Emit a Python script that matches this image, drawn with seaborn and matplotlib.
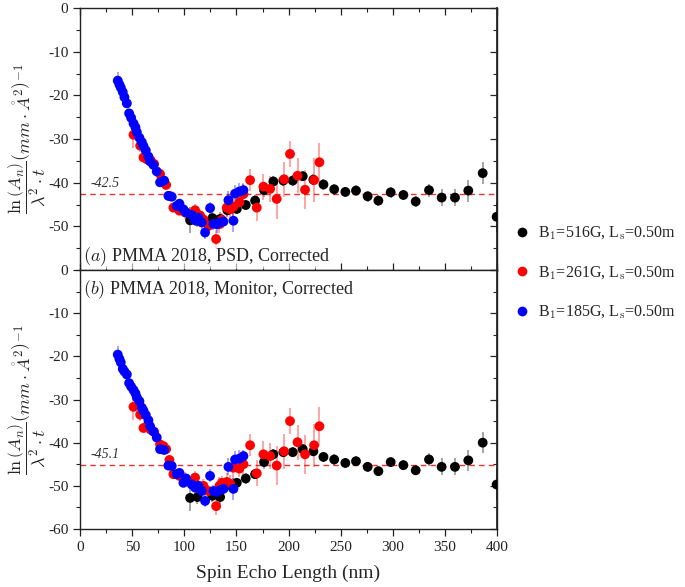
import matplotlib
matplotlib.use("Agg")
import matplotlib.pyplot as plt
from matplotlib.ticker import MultipleLocator
from matplotlib.lines import Line2D
import numpy as np
import pandas as pd
import seaborn as sns

# ---- data ----
# B1=185G (blue)
blue_x = [36.1, 37.7, 39.0, 40.9, 42.5, 44.8, 47.0, 48.9, 51.2, 53.1, 54.4, 56.9, 59.2, 60.8,
          63.0, 65.5, 67.1, 70.3, 73.5, 76.7, 80.6, 84.7, 87.9, 92.7, 95.3, 99.1, 101.7, 107.1,
          110.3, 113.5, 116.7, 119.9, 124.7, 127.9, 131.1, 134.3, 137.5, 142.3, 147.1, 148.7,
          152.8, 156.7]
blue_psd = [-16.6, -17.5, -18.2, -19.2, -20.4, -21.8, -24.1, -25.1, -26.4, -27.3, -28.4, -29.7,
            -30.7, -31.6, -32.6, -34.0, -35.1, -35.9, -37.4, -39.9, -39.5, -43.0, -43.2, -45.3,
            -44.8, -46.1, -46.8, -47.4, -48.6, -48.0, -49.1, -51.4, -45.8, -49.4, -49.5, -49.1,
            -48.9, -44.0, -48.7, -42.5, -42.0, -41.7]
blue_mon = [-19.6, -20.6, -21.4, -22.9, -23.5, -24.2, -26.2, -27.0, -27.8, -28.6, -29.5, -30.4,
            -31.9, -32.6, -33.6, -34.8, -36.2, -37.4, -38.8, -41.5, -41.7, -45.3, -45.4, -47.3,
            -47.0, -49.3, -48.3, -49.7, -50.4, -50.0, -51.2, -53.5, -47.7, -51.2, -51.4, -51.0,
            -50.7, -45.6, -50.7, -43.9, -43.7, -43.1]
blue_err = [2.0, 1.2, 1.0, 1.0, 1.0, 1.0, 1.0, 1.0, 1.0, 1.0, 1.0, 1.0, 1.0, 1.0,
            1.0, 1.0, 1.0, 1.0, 1.0, 1.0, 1.0, 1.0, 1.0, 1.0, 1.0, 1.0, 1.0, 1.2,
            1.2, 1.2, 1.5, 1.5, 1.5, 1.5, 2.0, 1.5, 1.5, 2.0, 2.5, 2.0, 2.0, 1.5]

# B1=261G (red)
red_x = [51.2, 57.6, 60.8, 63.9, 67.8, 71.0, 76.7, 79.9, 82.5, 85.7, 89.5, 95.3, 100.7, 110.3,
         115.1, 118.3, 123.1, 130.5, 133.7, 136.0, 140.7, 143.9, 147.1, 152.8, 156.7, 163.1,
         169.5, 175.9, 182.3, 188.6, 195.7, 201.4, 208.6, 215.8, 224.5, 229.6]
red_psd = [-29.0, -31.5, -34.2, -34.6, -34.9, -35.7, -38.0, -39.9, -40.5, -43.0, -45.7, -46.4,
           -46.8, -46.3, -47.5, -48.4, -49.9, -52.9, -49.5, -48.5, -45.7, -46.1, -45.5, -44.5,
           -42.6, -39.4, -45.7, -40.9, -41.4, -43.7, -39.2, -33.4, -38.4, -41.6, -39.4, -35.3]
red_mon = [-31.7, -33.5, -36.6, -36.2, -37.0, -37.5, -40.4, -40.8, -41.5, -44.0, -47.3, -47.7,
           -48.3, -48.1, -50.4, -50.0, -51.2, -54.7, -50.0, -49.3, -49.1, -49.5, -45.8, -46.0,
           -45.0, -40.6, -47.1, -42.7, -43.1, -45.3, -42.0, -35.0, -39.9, -42.7, -40.6, -36.2]
red_err = [3.0, 1.5, 1.0, 1.0, 1.0, 1.0, 1.0, 1.0, 1.0, 1.0, 1.0, 1.0, 1.5, 1.5,
           1.5, 1.5, 1.5, 2.0, 2.0, 1.5, 2.0, 2.0, 2.5, 2.0, 2.5, 2.5,
           3.0, 3.0, 3.0, 4.5, 4.0, 3.0, 4.0, 4.5, 5.0, 4.5]

# B1=516G (black)
black_x = [105.5, 112.6, 126.9, 134.3, 141.3, 150.3, 158.9, 167.9, 176.5, 185.4, 195.0, 204.0,
           213.6, 223.8, 233.5, 243.8, 254.5, 264.7, 275.9, 286.2, 298.0, 310.2, 322.0, 334.8,
           346.9, 359.7, 372.5, 386.3, 399.7]
black_psd = [-48.6, -48.7, -48.1, -48.3, -46.3, -46.0, -45.1, -44.1, -41.7, -39.7, -39.5, -39.5,
             -38.5, -39.3, -40.4, -41.5, -42.1, -41.8, -43.1, -44.1, -42.2, -42.8, -44.3, -41.7,
             -43.4, -43.4, -41.8, -37.8, -47.8]
black_mon = [-52.8, -52.6, -52.3, -52.6, -49.9, -49.3, -48.3, -47.3, -44.5, -42.7, -42.2, -42.2,
             -41.5, -42.0, -43.3, -43.9, -44.7, -44.3, -45.6, -46.6, -44.5, -45.2, -46.4, -43.9,
             -45.6, -45.6, -44.1, -40.0, -49.7]
black_err = [3.0, 1.5, 1.5, 1.5, 1.5, 1.2, 1.2, 1.2, 1.5, 1.2, 1.2, 1.2,
             1.2, 1.2, 1.2, 1.2, 1.2, 1.2, 1.2, 1.2, 1.2, 1.2, 1.2, 1.5,
             2.0, 2.0, 2.5, 2.5, 3.5]

series_names = [r"B$_\mathrm{1}$=516G, L$_\mathrm{s}$=0.50m",
                r"B$_\mathrm{1}$=261G, L$_\mathrm{s}$=0.50m",
                r"B$_\mathrm{1}$=185G, L$_\mathrm{s}$=0.50m"]
series_colors = ["black", "red", "blue"]
fit_levels = [-42.5, -45.1]
panel_titles = ["$(a)$ PMMA 2018, PSD, Corrected", "$(b)$ PMMA 2018, Monitor, Corrected"]

# ---- style ----
sns.set_theme(style="ticks")
plt.rcParams["font.family"] = ["Liberation Serif", "DejaVu Serif"]
plt.rcParams["mathtext.fontset"] = "cm"
plt.rcParams["axes.unicode_minus"] = False


def frame(xs, ys, es, name):
    return pd.DataFrame({"x": xs, "y": ys, "err": es, "series": name})


panels = [
    pd.concat([frame(black_x, black_psd, black_err, series_names[0]),
               frame(red_x, red_psd, red_err, series_names[1]),
               frame(blue_x, blue_psd, blue_err, series_names[2])]),
    pd.concat([frame(black_x, black_mon, black_err, series_names[0]),
               frame(red_x, red_mon, red_err, series_names[1]),
               frame(blue_x, blue_mon, blue_err, series_names[2])]),
]

fig = plt.figure(figsize=(6.85, 5.87), dpi=100)
ax_top = fig.add_axes([0.117, 0.540, 0.6085, 0.446])
ax_bot = fig.add_axes([0.117, 0.0988, 0.6085, 0.4412], sharex=ax_top)
palette = dict(zip(series_names, series_colors))

ylabel = r"$\dfrac{\ln\left(A_n\right)}{\lambda^2\cdot t}\left(mm\cdot\mathring{A}^{2}\right)^{-1}$"

for i, (ax, df) in enumerate(zip([ax_top, ax_bot], panels)):
    for name in series_names:
        sub = df[df["series"] == name]
        ax.errorbar(sub["x"], sub["y"], yerr=sub["err"], fmt="none",
                    ecolor=palette[name], alpha=0.45, elinewidth=1.1, zorder=2)
        sns.scatterplot(data=sub, x="x", y="y", color=palette[name], s=50,
                        edgecolor="none", ax=ax, zorder=3, legend=False)
    ax.axhline(fit_levels[i], color="#e8342f", ls=(0, (4, 3)), lw=1.0, zorder=1)
    ax.text(10, fit_levels[i] + 0.8, "-%.1f" % abs(fit_levels[i]), fontsize=10,
            style="italic", color="#333333", va="bottom", ha="left")
    ax.set_xlim(0, 400)
    ax.set_ylim(-60, 0)
    ax.xaxis.set_major_locator(MultipleLocator(50))
    ax.xaxis.set_minor_locator(MultipleLocator(25))
    ax.yaxis.set_major_locator(MultipleLocator(10))
    ax.yaxis.set_minor_locator(MultipleLocator(5))
    ax.tick_params(axis="both", which="both", labelsize=11, colors="#222222", top=True, right=True)
    ax.tick_params(axis="x", which="both", direction="in")
    ax.tick_params(axis="y", which="both", direction="out", right=False)
    ax.tick_params(which="major", length=5, width=0.9)
    ax.tick_params(which="minor", length=3, width=0.8)
    ax.set_ylabel(ylabel, fontsize=13, labelpad=6)
    ax.set_xlabel("")
    for sp in ax.spines.values():
        sp.set_linewidth(1.0)
        sp.set_color("#222222")
    ax.yaxis.set_label_coords(-0.08, 0.5)

# right-side inner ticks
for ax in [ax_top, ax_bot]:
    ax2 = ax.secondary_yaxis("right")
    ax2.yaxis.set_major_locator(MultipleLocator(10))
    ax2.yaxis.set_minor_locator(MultipleLocator(5))
    ax2.tick_params(which="both", direction="in", labelright=False)
    ax2.tick_params(which="major", length=5, width=0.9)
    ax2.tick_params(which="minor", length=3, width=0.8)

ax_top.tick_params(axis="x", labelbottom=False)
ax_top.set_yticks([0, -10, -20, -30, -40, -50])
ax_bot.tick_params(axis="x", which="both", direction="out", top=False)

ax_top.text(3, -57, panel_titles[0], fontsize=13, ha="left", va="center",
            bbox=dict(facecolor="white", edgecolor="none", alpha=0.6, pad=0.5), zorder=5)
ax_bot.text(3, -4.5, panel_titles[1], fontsize=13, ha="left", va="center", zorder=5)

ax_bot.set_xlabel("Spin Echo Length (nm)", fontsize=14, labelpad=8)

handles = [Line2D([], [], ls="none", marker="o", markersize=7, color=c, markeredgecolor="none")
           for c in series_colors]
fig.legend(handles, series_names, loc="center left", bbox_to_anchor=(0.73, 0.535),
           frameon=False, fontsize=11.5, labelspacing=1.4, handletextpad=0.45,
           handlelength=1.0)

fig.savefig("out.png", dpi=100)
